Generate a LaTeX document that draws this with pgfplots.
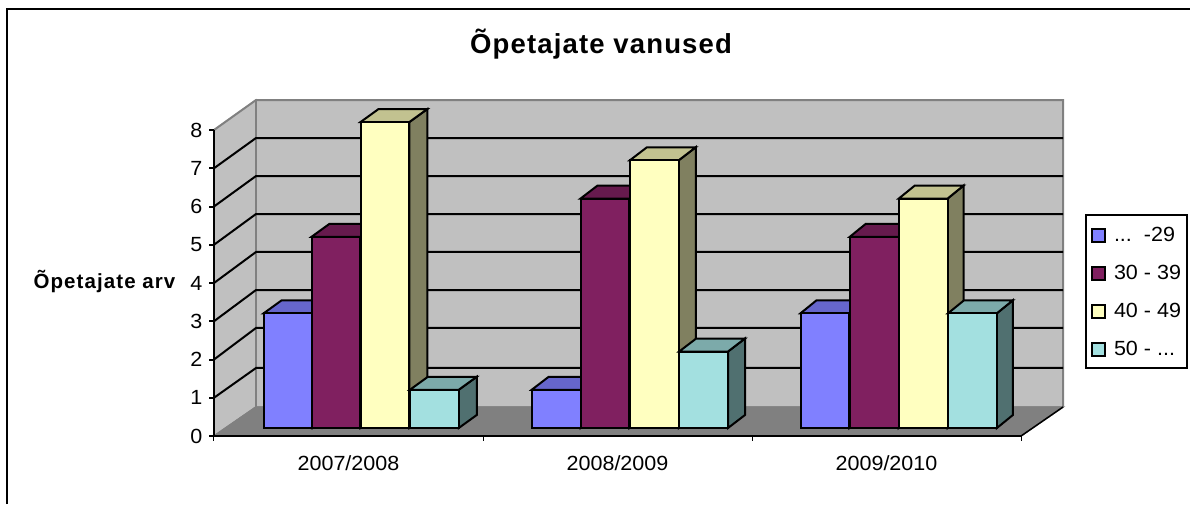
\documentclass[border=0pt]{standalone}
\usepackage{pgfplots}
\pgfplotsset{compat=1.18}
\usepackage{fontspec}
\setmainfont{Liberation Sans}[FakeStretch=1.05]
\newfontfamily\lspa{Liberation Sans}[LetterSpace=4.2]
\newfontfamily\lspb{Liberation Sans}[LetterSpace=5.3]
\definecolor{cA}{HTML}{8080FF}\definecolor{cAt}{HTML}{6666CC}\definecolor{cAs}{HTML}{404080}
\definecolor{cB}{HTML}{802060}\definecolor{cBt}{HTML}{661A4D}\definecolor{cBs}{HTML}{401030}
\definecolor{cC}{HTML}{FFFFC0}\definecolor{cCt}{HTML}{C2C290}\definecolor{cCs}{HTML}{808060}
\definecolor{cD}{HTML}{A3E0E0}\definecolor{cDt}{HTML}{7CAAAA}\definecolor{cDs}{HTML}{507070}
\definecolor{wallc}{HTML}{C0C0C0}\definecolor{floorc}{HTML}{808080}
\newcommand\txt{\fontsize{20.5}{23}\selectfont}
\begin{document}
\begin{tikzpicture}[x=1pt,y=1pt]
\path[use as bounding box] (-214pt,-68pt) rectangle (976pt,436pt);
\draw[black,line width=2.2pt] (-207pt,-68pt) -- (-207pt,427pt) -- (976pt,427pt);
\begin{axis}[
  scale only axis, width=807pt, height=306pt,
  xmin=0, xmax=807, ymin=0, ymax=8, clip=false,
  axis on top,
  axis x line*=bottom, axis y line*=left,
  axis line style={black,line width=2pt,-},
  /pgf/number format/assume math mode=true,
  ytick={0,...,8},
  xtick={0,269,538,807},
  xticklabels={},
  extra x ticks={134.5,403.5,672.5},
  extra x tick labels={2007/2008,2008/2009,2009/2010},
  extra x tick style={major tick length=0pt,xticklabel style={inner sep=0pt,yshift=-19pt,text height=15pt,text depth=0pt}},
  xtick style={draw=black,line width=1pt},
  ytick style={draw=black,line width=2pt},
  major tick length=4.5pt,
  tick align=outside,
  tick label style={font=\txt},
  yticklabel style={inner sep=0pt,xshift=-7pt},
  title={\lspa\bfseries\fontsize{27.5}{30}\selectfont Õpetajate vanused},
  title style={at={(axis cs:387,10.08)},anchor=center,inner sep=0pt},
  ylabel={\lspb\bfseries\fontsize{20.5}{23}\selectfont Õpetajate arv},
  every axis y label/.style={at={(axis cs:-109.5,4.03)},anchor=center,rotate=0,inner sep=0pt},
  legend style={at={(axis cs:871,5.8)},anchor=north west,draw=black,line width=2pt,
    fill=white,inner xsep=5pt,inner ysep=6pt,font=\txt,row sep=11.5pt,
    nodes={inner sep=1pt,text height=19.5pt,text depth=5pt,line width=0pt}},
  legend cell align=left,
  wall/.style={forget plot,fill=#1,draw=#1,line width=1.5pt},
  gl/.style={forget plot,draw=black,line width=2pt},
  sh/.style={forget plot,draw=black,line width=2pt,yshift=8pt,fill=#1},
  fr/.style={ybar,bar shift=0pt,bar width=48.8pt,yshift=8pt,draw=black,line width=2pt,fill=#1,
    legend image code/.code={\path (0pt,0pt) (20pt,0pt);\draw[overlay,draw=black,fill=#1,line width=2pt] (0pt,-16pt) rectangle (13pt,-3pt);}},
]
% walls and floor
\addplot[wall=wallc] coordinates {(42,0.758)(849,0.758)(849,8.784)(42,8.784)} -- cycle;
\addplot[wall=wallc] coordinates {(0,0)(42,0.758)(42,8.784)(0,8)} -- cycle;
\addplot[wall=floorc] coordinates {(0,0)(42,0.758)(849,0.758)(807,0)} -- cycle;
\addplot[forget plot,draw=floorc,line width=2pt] coordinates {(0,8)(42,8.784)(849,8.784)(849,0.758)};
\addplot[forget plot,draw=floorc,line width=2pt] coordinates {(42,0.758)(42,8.784)};
\addplot[forget plot,draw=floorc,line width=1.5pt] coordinates {(0,0)(42,0.758)(849,0.758)};
\addplot[forget plot,draw=black,line width=1.5pt] coordinates {(807,0)(849,0.758)};
% grid
\addplot[gl] coordinates {(0,1)(42,1.778)(849,1.778)};
\addplot[gl] coordinates {(0,2)(42,2.824)(849,2.824)};
\addplot[gl] coordinates {(0,3)(42,3.817)(849,3.817)};
\addplot[gl] coordinates {(0,4)(42,4.811)(849,4.811)};
\addplot[gl] coordinates {(0,5)(42,5.804)(849,5.804)};
\addplot[gl] coordinates {(0,6)(42,6.797)(849,6.797)};
\addplot[gl] coordinates {(0,7)(42,7.791)(849,7.791)};
% series ... -29
\addplot[sh=cAs] coordinates {(98.55,0)(98.55,3)(116.55,3.34)(116.55,0.34)} -- cycle;
\addplot[sh=cAt] coordinates {(49.75,3)(98.55,3)(116.55,3.34)(67.75,3.34)} -- cycle;
\addplot[sh=cAs] coordinates {(366.55,0)(366.55,1)(383.55,1.34)(383.55,0.34)} -- cycle;
\addplot[sh=cAt] coordinates {(317.75,1)(366.55,1)(383.55,1.34)(334.75,1.34)} -- cycle;
\addplot[sh=cAs] coordinates {(635.4,0)(635.4,3)(651.4,3.34)(651.4,0.34)} -- cycle;
\addplot[sh=cAt] coordinates {(586.6,3)(635.4,3)(651.4,3.34)(602.6,3.34)} -- cycle;
\addplot[fr=cA] coordinates {(74.15,3)(342.15,1)(611,3)};
\addlegendentry{...~~-29}
% series 30 - 39
\addplot[sh=cBs] coordinates {(146.4,0)(146.4,5)(164.4,5.34)(164.4,0.34)} -- cycle;
\addplot[sh=cBt] coordinates {(97.6,5)(146.4,5)(164.4,5.34)(115.6,5.34)} -- cycle;
\addplot[sh=cBs] coordinates {(415.4,0)(415.4,6)(432.4,6.34)(432.4,0.34)} -- cycle;
\addplot[sh=cBt] coordinates {(366.6,6)(415.4,6)(432.4,6.34)(383.6,6.34)} -- cycle;
\addplot[sh=cBs] coordinates {(684.65,0)(684.65,5)(700.65,5.34)(700.65,0.34)} -- cycle;
\addplot[sh=cBt] coordinates {(635.85,5)(684.65,5)(700.65,5.34)(651.85,5.34)} -- cycle;
\addplot[fr=cB] coordinates {(122,5)(391,6)(660.25,5)};
\addlegendentry{30 - 39}
% series 40 - 49
\addplot[sh=cCs] coordinates {(195.4,0)(195.4,8)(213.4,8.34)(213.4,0.34)} -- cycle;
\addplot[sh=cCt] coordinates {(146.6,8)(195.4,8)(213.4,8.34)(164.6,8.34)} -- cycle;
\addplot[sh=cCs] coordinates {(464.75,0)(464.75,7)(481.75,7.34)(481.75,0.34)} -- cycle;
\addplot[sh=cCt] coordinates {(415.95,7)(464.75,7)(481.75,7.34)(432.95,7.34)} -- cycle;
\addplot[sh=cCs] coordinates {(733.65,0)(733.65,6)(749.65,6.34)(749.65,0.34)} -- cycle;
\addplot[sh=cCt] coordinates {(684.85,6)(733.65,6)(749.65,6.34)(700.85,6.34)} -- cycle;
\addplot[fr=cC] coordinates {(171,8)(440.35,7)(709.25,6)};
\addlegendentry{40 - 49}
% series 50 - ...
\addplot[sh=cDs] coordinates {(244.75,0)(244.75,1)(262.75,1.34)(262.75,0.34)} -- cycle;
\addplot[sh=cDt] coordinates {(195.95,1)(244.75,1)(262.75,1.34)(213.95,1.34)} -- cycle;
\addplot[sh=cDs] coordinates {(514,0)(514,2)(531,2.34)(531,0.34)} -- cycle;
\addplot[sh=cDt] coordinates {(465.2,2)(514,2)(531,2.34)(482.2,2.34)} -- cycle;
\addplot[sh=cDs] coordinates {(782.9,0)(782.9,3)(798.9,3.34)(798.9,0.34)} -- cycle;
\addplot[sh=cDt] coordinates {(734.1,3)(782.9,3)(798.9,3.34)(750.1,3.34)} -- cycle;
\addplot[fr=cD] coordinates {(220.35,1)(489.6,2)(758.5,3)};
\addlegendentry{50 - ...}
\end{axis}
\end{tikzpicture}
\end{document}
